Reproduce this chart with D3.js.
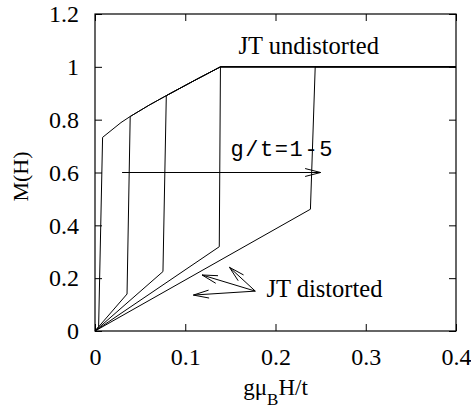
<!DOCTYPE html>
<html>
<head>
<meta charset="utf-8">
<script src="https://cdn.jsdelivr.net/npm/d3@7"></script>
<style>
  body { margin: 0; background: #fff; }
  text { fill: #000; }
</style>
</head>
<body>
<div id="chart"></div>
<script>
// magnetisation curves, one per g/t value: [field, M]
const envelope = [[0.0084, 0.733], [0.0288, 0.789], [0.039, 0.812], [0.06, 0.855], [0.079, 0.891], [0.11, 0.948], [0.139, 1.0]];
const curve1 = [[0, 0], [0.004, 0.016], [0.0084, 0.733]];
const curve2 = [[0, 0], [0.0355, 0.14], [0.039, 0.812]];
const curve3 = [[0, 0], [0.0753, 0.225], [0.079, 0.891]];
const curve4 = [[0, 0], [0.1377, 0.319], [0.139, 1.0]];
const curve5 = [[0, 0], [0.2387, 0.461], [0.244, 1.0]];
const saturation = [[0.139, 1.0], [0.4, 1.0]];

const xTicks = [0, 0.1, 0.2, 0.3, 0.4];
const yTicks = [0, 0.2, 0.4, 0.6, 0.8, 1, 1.2];

// annotation arrows
const gtArrow = [[0.03, 0.6], [0.25, 0.6]];
const jtFrom = [0.1776, 0.151];
const jtTips = [[0.1186, 0.212], [0.149, 0.241], [0.109, 0.136]];

const width = 471, height = 413;
const margin = { top: 14, right: 15, bottom: 82, left: 95 };

const svg = d3.select("#chart").append("svg")
    .attr("width", width)
    .attr("height", height);

const x = d3.scaleLinear().domain([0, 0.4]).range([margin.left, width - margin.right]);
const y = d3.scaleLinear().domain([0, 1.2]).range([height - margin.bottom, margin.top]);

const serif = "'Liberation Serif', 'Times New Roman', serif";

// axes (ticks inside, mirrored)
svg.append("g")
    .attr("transform", `translate(0,${y(0)})`)
    .call(d3.axisBottom(x).tickValues(xTicks).tickSize(-7).tickPadding(17).tickFormat(d => d === 0 ? "0" : d))
    .call(g => g.select(".domain").remove());
svg.append("g")
    .attr("transform", `translate(0,${y(1.2)})`)
    .call(d3.axisTop(x).tickValues(xTicks).tickSize(-7).tickFormat(""))
    .call(g => g.select(".domain").remove());
svg.append("g")
    .attr("transform", `translate(${x(0)},0)`)
    .call(d3.axisLeft(y).tickValues(yTicks).tickSize(-7).tickPadding(16).tickFormat(d => d))
    .call(g => g.select(".domain").remove());
svg.append("g")
    .attr("transform", `translate(${x(0.4)},0)`)
    .call(d3.axisRight(y).tickValues(yTicks).tickSize(-7).tickFormat(""))
    .call(g => g.select(".domain").remove());

svg.selectAll(".tick line").attr("stroke", "#000").attr("stroke-width", 1);
svg.selectAll(".tick text")
    .style("font-family", serif)
    .style("font-size", "24px")
    .attr("fill", "#000");

svg.append("rect")
    .attr("x", x(0)).attr("y", y(1.2))
    .attr("width", x(0.4) - x(0)).attr("height", y(0) - y(1.2))
    .attr("fill", "none").attr("stroke", "#000").attr("stroke-width", 1.2);

const line = d3.line().x(d => x(d[0])).y(d => y(d[1]));

// each curve: rises from origin, jumps up, then follows the envelope to saturation
const curves = [
  curve1.concat(envelope.slice(1)),
  curve2.concat(envelope.slice(3)),
  curve3.concat(envelope.slice(5)),
  curve4,
  curve5
];
curves.forEach(c => {
  const pts = c.concat(c[c.length - 1][0] < 0.2 ? saturation : [[0.4, 1.0]]);
  svg.append("path")
      .attr("d", line(pts))
      .attr("fill", "none")
      .attr("stroke", "#000")
      .attr("stroke-width", 1);
});

function arrow(from, to) {
  const x1 = x(from[0]), y1 = y(from[1]), x2 = x(to[0]), y2 = y(to[1]);
  const a = Math.atan2(y2 - y1, x2 - x1), len = 16, sp = 0.25;
  svg.append("path")
      .attr("d", `M${x1},${y1}L${x2},${y2}` +
        `M${x2 - len * Math.cos(a - sp)},${y2 - len * Math.sin(a - sp)}L${x2},${y2}` +
        `L${x2 - len * Math.cos(a + sp)},${y2 - len * Math.sin(a + sp)}`)
      .attr("fill", "none")
      .attr("stroke", "#000")
      .attr("stroke-width", 1);
}

arrow(gtArrow[0], gtArrow[1]);
jtTips.forEach(t => arrow(jtFrom, t));

svg.append("text")
    .attr("x", x(0.15)).attr("y", y(0.662))
    .style("font-family", "'Liberation Mono', 'Courier New', monospace")
    .style("font-size", "22px")
    .style("letter-spacing", "1.6px")
    .text("g/t=1-5");

svg.append("text")
    .attr("x", x(0.159)).attr("y", y(1.048))
    .style("font-family", serif)
    .style("font-size", "24.5px")
    .text("JT undistorted");

svg.append("text")
    .attr("x", x(0.19)).attr("y", y(0.13))
    .style("font-family", serif)
    .style("font-size", "24.5px")
    .text("JT distorted");

// axis labels
const xl = svg.append("text")
    .attr("x", (x(0) + x(0.4)) / 2).attr("y", 395)
    .attr("text-anchor", "middle")
    .style("font-family", serif)
    .style("font-size", "23px");
xl.append("tspan").text("gμ");
xl.append("tspan").attr("dy", 10).style("font-size", "17px").text("B");
xl.append("tspan").attr("dy", -10).text("H/t");

svg.append("text")
    .attr("transform", `translate(28,${(y(0) + y(1.2)) / 2 + 4}) rotate(-90)`)
    .attr("text-anchor", "middle")
    .style("font-family", serif)
    .style("font-size", "22px")
    .text("M(H)");
</script>
</body>
</html>
